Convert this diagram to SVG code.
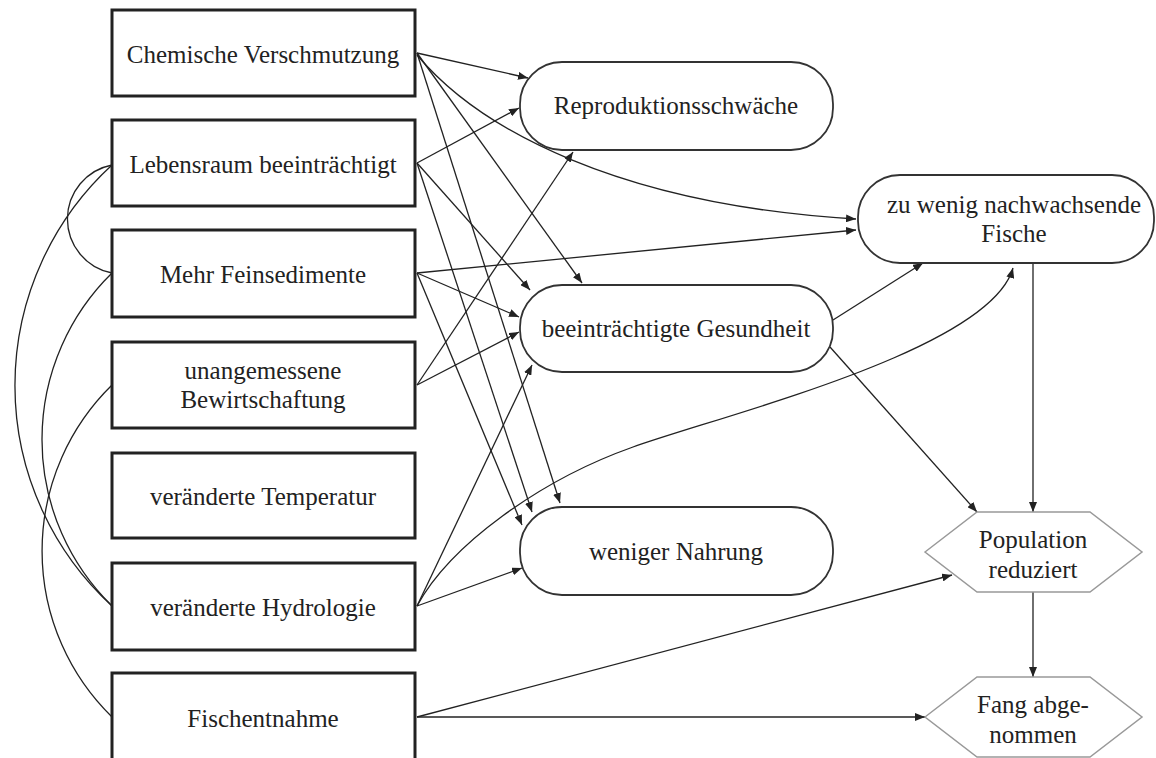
<svg xmlns="http://www.w3.org/2000/svg" width="1156" height="758" viewBox="0 0 1156 758">
<style>
text{font-family:"Liberation Serif","Times New Roman",serif;font-size:25px;fill:#222;text-anchor:middle}
.box{fill:#fff;stroke:#222;stroke-width:3}
.rnd{fill:#fff;stroke:#333;stroke-width:1.8}
.hex{fill:#fff;stroke:#999;stroke-width:1.5}
.e{fill:none;stroke:#222;stroke-width:1.3}
.a{marker-end:url(#arr)}
</style>
<defs>
<marker id="arr" markerUnits="userSpaceOnUse" markerWidth="10" markerHeight="8" refX="10" refY="4" orient="auto">
<path d="M0,0 L10,4 L0,8 z" fill="#222"/>
</marker>
</defs>
<rect width="1156" height="758" fill="#fff"/>
<g id="connectors">
<path class="e" d="M112,165 A55,55 0 0 0 112,273"/>
<path class="e" d="M112,165 A299,299 0 0 0 112,606"/>
<path class="e" d="M112,273 A233,233 0 0 0 112,606"/>
<path class="e" d="M112,385 A232,232 0 0 0 112,717"/>
<path class="e a" d="M417,53 L528,78"/>
<path class="e a" d="M417,55 C480,130 620,205 856,219"/>
<path class="e a" d="M417,53 L582,283"/>
<path class="e a" d="M417,53 L560,503"/>
<path class="e a" d="M417,163 L519,108"/>
<path class="e a" d="M417,163 L530,290"/>
<path class="e a" d="M417,163 L532,512"/>
<path class="e a" d="M417,273 L856,230"/>
<path class="e a" d="M417,273 L519,317"/>
<path class="e a" d="M417,273 L522,525"/>
<path class="e a" d="M417,385 L573,152"/>
<path class="e a" d="M417,385 L519,332"/>
<path class="e a" d="M417,606 L532,365"/>
<path class="e a" d="M417,606 C450,545 540,480 633,447 C726,414 990,350 1013,268"/>
<path class="e a" d="M417,606 L522,568"/>
<path class="e a" d="M417,717 L952,575"/>
<path class="e a" d="M417,717 L925,717"/>
<path class="e a" d="M833,320 L923,263"/>
<path class="e a" d="M830,347 L977,512"/>
<path class="e a" d="M1033,263 L1033,512"/>
<path class="e a" d="M1033,592 L1033,677"/>
</g>
<g id="n-chem"><rect class="box" x="112" y="10" width="303" height="86"/><text x="263" y="63">Chemische Verschmutzung</text></g>
<g id="n-leb"><rect class="box" x="112" y="120" width="303" height="86"/><text x="263" y="173">Lebensraum beeinträchtigt</text></g>
<g id="n-mehr"><rect class="box" x="112" y="230" width="303" height="87"/><text x="263" y="283">Mehr Feinsedimente</text></g>
<g id="n-bew"><rect class="box" x="112" y="342" width="303" height="86"/><text x="263" y="379">unangemessene</text><text x="263" y="408">Bewirtschaftung</text></g>
<g id="n-temp"><rect class="box" x="112" y="453" width="303" height="85"/><text x="263" y="505">veränderte Temperatur</text></g>
<g id="n-hyd"><rect class="box" x="112" y="563" width="303" height="87"/><text x="263" y="616">veränderte Hydrologie</text></g>
<g id="n-fisch"><rect class="box" x="112" y="673" width="303" height="88"/><text x="263" y="727">Fischentnahme</text></g>
<g id="n-repro"><rect class="rnd" x="520" y="62" width="313" height="88" rx="42"/><text x="676" y="114">Reproduktionsschwäche</text></g>
<g id="n-ges"><rect class="rnd" x="520" y="285" width="313" height="87" rx="42"/><text x="676" y="337">beeinträchtigte Gesundheit</text></g>
<g id="n-nahr"><rect class="rnd" x="520" y="507" width="313" height="88" rx="42"/><text x="676" y="560">weniger Nahrung</text></g>
<g id="n-zuwenig"><rect class="rnd" x="858" y="175" width="296" height="88" rx="42"/><text x="1014" y="213">zu wenig nachwachsende</text><text x="1014" y="242">Fische</text></g>
<g id="n-pop"><path class="hex" d="M925,552 L977,512 L1090,512 L1142,552 L1090,592 L977,592 Z"/><text x="1033" y="548">Population</text><text x="1033" y="578">reduziert</text></g>
<g id="n-fang"><path class="hex" d="M925,717 L977,677 L1090,677 L1142,717 L1090,757 L977,757 Z"/><text x="1033" y="713">Fang abge-</text><text x="1033" y="743">nommen</text></g>
</svg>
